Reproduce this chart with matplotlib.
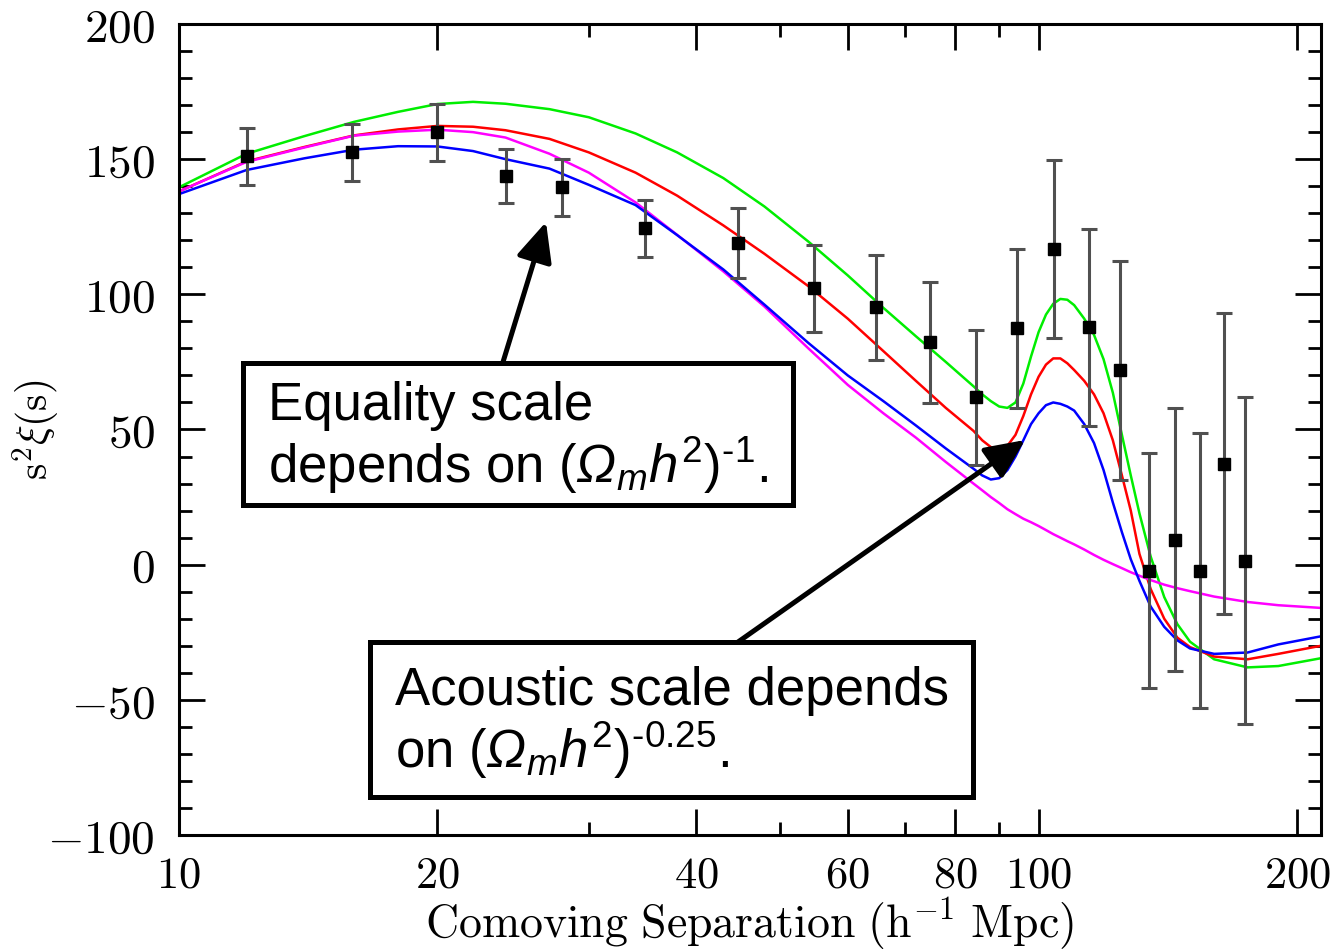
import matplotlib
matplotlib.use("Agg")
import matplotlib.pyplot as plt
from matplotlib.patches import Rectangle, FancyArrowPatch
from matplotlib.ticker import FixedLocator, NullFormatter

plt.rcParams['mathtext.fontset'] = 'cm'
plt.rcParams['mathtext.rm'] = 'Liberation Sans'
plt.rcParams['mathtext.it'] = 'Liberation Sans:italic'
plt.rcParams['mathtext.sf'] = 'Liberation Sans:italic'   # for a slanted capital Omega

# model curves, s^2 xi(s) vs comoving separation
sep = [10, 12, 14, 16, 18, 20, 22, 24, 27, 30, 34, 38, 43, 48, 54, 60, 66, 72, 78, 84,
       86, 88, 90, 92, 94, 96, 98, 100, 102, 104, 106, 108, 110, 113, 116, 119, 122, 125, 128, 131,
       135, 140, 145, 150, 160, 175, 190, 213]
green = [139.5, 152, 158.5, 163.8, 167.5, 170.4, 171.2, 170.5, 168.5, 165.5, 159.5, 152.5, 143, 132.5,
         119.5, 107, 95, 84.5, 75, 66,
         63, 60.5, 58.5, 58, 60, 67, 77, 86, 92.5, 96.5, 98.3, 98, 96, 91, 85, 76, 63.6, 48, 33, 19,
         3, -12, -22, -28.5, -35, -38, -37.5, -34.6]
red = [138, 149.2, 154.5, 158.8, 161, 162.3, 162, 160.7, 157.5, 152.5, 145, 136.5, 125.5, 115,
       103, 91, 79, 68, 58, 49.5,
       46, 43.5, 42.5, 44, 48, 55, 63, 69.5, 74, 76.3, 76.3, 74.5, 72, 68, 63, 56, 46, 33, 20, 4,
       -9, -20, -27, -30.5, -34, -35, -33, -30]
blue = [137, 146, 150.3, 153.5, 154.8, 154.7, 153, 150, 146.5, 140.5, 133, 121.9, 109.2, 96.2,
        82, 70, 60.5, 51.5, 43, 35.5,
        33, 31.5, 32, 35, 40, 46, 52, 56, 59, 60, 59.5, 58.5, 57, 52, 45, 35, 23, 12, 2, -6,
        -15.5, -23, -28, -31, -33, -32.5, -29.5, -26.5]
magenta = [138, 149, 154.3, 158.7, 160.2, 160.9, 160, 158, 152, 145, 134, 122, 108.5, 95.5,
           80, 66.5, 56, 47, 38, 30,
           27.5, 25, 22.8, 20.5, 18.7, 17, 15.7, 14.3, 12.8, 11.3, 10, 8.7, 7.5, 5.6, 3.6, 1.8, 0.2,
           -1.3, -2.8, -4.1,
           -5.7, -7.4, -8.7, -9.8, -11.8, -13.8, -15, -16]

# measured points with 1-sigma errors
pts_x = [12.0, 15.9, 20.0, 24.0, 27.9, 34.9, 44.7, 54.8, 64.7, 74.8, 84.6, 94.4, 104.2, 114.5,
         124.4, 134.5, 144.1, 154.2, 164.4, 173.9]
pts_y = [151, 152.6, 160, 143.7, 139.6, 124.4, 118.9, 102.2, 95.2, 82.2, 61.9, 87.4, 116.7, 87.8,
         71.9, -2.2, 9.3, -2.2, 37.4, 1.5]
pts_err = [10.5, 10.5, 10.5, 10, 10.5, 10.5, 13, 16, 19.5, 22.5, 25, 29.3, 33, 36.5, 40.5, 43.5,
           48.5, 51, 55.8, 60.4]

xticks = [10, 20, 40, 60, 80, 100, 200]
xminor = [30, 50, 70, 90]
yticks = [-100, -50, 0, 50, 100, 150, 200]

W, H = 1335, 951
fig = plt.figure(figsize=(W / 100, H / 100), dpi=100)
ax = fig.add_axes([178.5 / W, 1 - 835 / H, (1321 - 178.5) / W, (835 - 24) / H])

ax.plot(sep, green, color='#00ee00', lw=1.8, zorder=2)
ax.plot(sep, red, color='#ff0000', lw=1.8, zorder=2)
ax.plot(sep, magenta, color='#ff00ff', lw=1.8, zorder=2)
ax.plot(sep, blue, color='#0000ff', lw=1.8, zorder=2)
ax.errorbar(pts_x, pts_y, yerr=pts_err, fmt='s', color='black', ms=8,
            ecolor='#505050', elinewidth=2.2, capsize=6, capthick=2.2, zorder=3)

ax.set_xscale('log')
ax.set_xlim(10, 213)
ax.set_ylim(-100, 200)
ax.xaxis.set_major_locator(FixedLocator(xticks))
ax.xaxis.set_minor_locator(FixedLocator(xminor))
ax.xaxis.set_minor_formatter(NullFormatter())
ax.set_xticklabels(['$%d$' % v for v in xticks])
ax.set_yticks(yticks)
ax.set_yticks(range(-90, 200, 10), minor=True)
ax.set_yticklabels(['$%d$' % v for v in yticks])

ax.tick_params(which='both', direction='in', top=True, right=True, width=2, labelsize=34)
ax.tick_params(which='major', length=19)
ax.tick_params(which='minor', length=9.5)
ax.tick_params(axis='y', pad=17)
ax.tick_params(axis='x', pad=13, labelsize=32)
for sp in ax.spines.values():
    sp.set_linewidth(2.2)

ax.set_xlabel(r'$\mathrm{Comoving\ Separation\ (h^{-1}\ Mpc)}$', fontsize=33, labelpad=0)
ax.set_ylabel(r'$\mathrm{s}^2\xi(\mathrm{s})$', fontsize=30)
ax.yaxis.set_label_coords(-0.102, 0.5)


def fig_xy(px, py):
    return px / W, 1 - py / H


def box(x0, y0, x1, y1):
    fx0, fy1 = fig_xy(x0, y1)
    fx1, fy0 = fig_xy(x1, y0)
    fig.add_artist(Rectangle((fx0, fy1), fx1 - fx0, fy0 - fy1, transform=fig.transFigure,
                             facecolor='white', edgecolor='black', lw=3.6, zorder=5))


box(243, 363, 793, 505)
box(370, 642, 973, 797)

txt = dict(fontsize=38, family='Liberation Sans', math_fontfamily='custom',
           ha='left', va='baseline', zorder=6)
fig.text(*fig_xy(268, 420), 'Equality scale', **txt)
fig.text(*fig_xy(268, 483), 'depends on $(\\mathsf{\\Omega}_m h^2)^{\u20101}$.', **txt)
fig.text(*fig_xy(395, 705), 'Acoustic scale depends', **txt)
fig.text(*fig_xy(395, 768), 'on $(\\mathsf{\\Omega}_m h^2)^{\u20100.25}$.', **txt)

arrow = dict(arrowstyle='-|>,head_length=1.2,head_width=0.55', mutation_scale=20,
             lw=3.6, color='black', shrinkA=0, shrinkB=0)
fig.add_artist(FancyArrowPatch(fig_xy(503, 362), fig_xy(546, 222),
                               transform=fig.transFigure, zorder=6, **arrow))
fig.add_artist(FancyArrowPatch(fig_xy(738, 642), fig_xy(1025, 440),
                               transform=fig.transFigure, zorder=6, **arrow))

fig.savefig('out.png', dpi=100)
